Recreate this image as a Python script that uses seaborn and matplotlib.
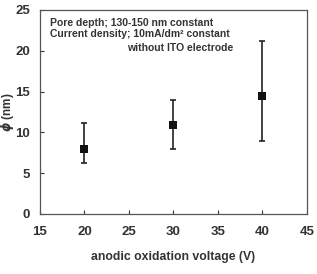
import numpy as np
import pandas as pd
import matplotlib
matplotlib.use('Agg')
import matplotlib.pyplot as plt
import seaborn as sns

# 讀圖估計的數據
voltage = [20, 30, 40]
diameter = [8.0, 10.9, 14.5]
err_low = [6.2, 7.9, 9.0]
err_high = [11.15, 13.95, 21.2]

df = pd.DataFrame({'V': voltage, 'phi': diameter})

sns.set_style('ticks')
plt.rcParams['font.family'] = ['Liberation Sans', 'DejaVu Sans']
plt.rcParams['font.weight'] = 'bold'
plt.rcParams['mathtext.fontset'] = 'dejavusans'

fig = plt.figure(figsize=(3.17, 2.74), dpi=100)
ax = fig.add_axes([0.126, 0.219, 0.842, 0.745])

yerr = np.array([np.array(diameter) - np.array(err_low),
                 np.array(err_high) - np.array(diameter)])
ax.errorbar(voltage, diameter, yerr=yerr, fmt='none', ecolor='#222222',
            elinewidth=1.2, capsize=2.5, capthick=1.2, zorder=2)
sns.scatterplot(data=df, x='V', y='phi', marker='s', s=40, color='#111111',
                edgecolor='#111111', linewidth=0, ax=ax, zorder=3)

ax.set_xlim(15, 45)
ax.set_ylim(0, 25)
ax.set_xticks(range(15, 46, 5))
ax.set_yticks(range(0, 26, 5))
ax.tick_params(direction='in', length=3, width=0.8, labelsize=9.5, colors='#333333',
               labelcolor='#333333')
ax.tick_params(axis='x', pad=9)
ax.tick_params(axis='y', pad=7)
for s in ax.spines.values():
    s.set_color('#555555')
    s.set_linewidth(0.9)

ax.set_xlabel('anodic oxidation voltage (V)', fontsize=8.8, fontweight='bold',
              color='#333333', labelpad=9)
ax.set_ylabel('$\\phi$ (nm)', fontsize=8.5, fontweight='bold', color='#333333')
ax.yaxis.set_label_coords(-0.088, 0.5)

kw = dict(transform=ax.transAxes, fontsize=7.5, fontweight='bold',
          color='#333333', va='center')
ax.text(0.037, 0.938, 'Pore depth; 130-150 nm constant', ha='left', **kw)
ax.text(0.037, 0.882, 'Current density; 10mA/dm\u00b2 constant', ha='left', **kw)
ax.text(0.723, 0.815, 'without ITO electrode', ha='right', **kw)

plt.savefig('out.png', dpi=100)
